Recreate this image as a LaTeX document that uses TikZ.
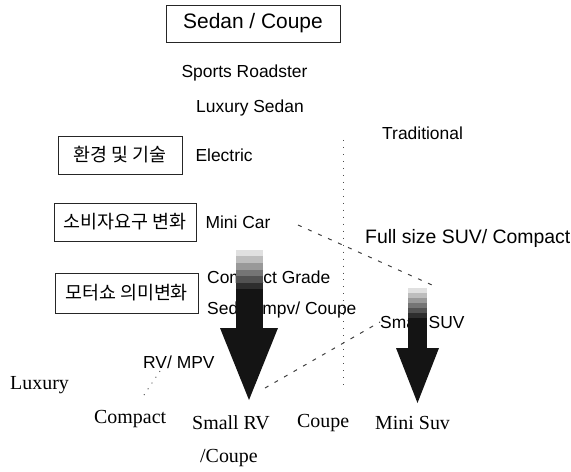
\documentclass[tikz,border=0pt]{standalone}
\usepackage{fontspec}
\setmainfont{Liberation Serif}
\setsansfont{Liberation Sans}
\newfontfamily\krfont{Noto Sans CJK KR}
\usetikzlibrary{positioning}

\begin{document}
\begin{tikzpicture}[
  x=1bp, y=-1bp,
  box/.style={rectangle, draw=black!85, line width=0.6pt, inner sep=0pt},
  cat/.style={box, font=\krfont\fontsize{18.5}{21}\selectfont, minimum height=38bp},
  lbl/.style={font=\sffamily\fontsize{17.5}{20}\selectfont, inner sep=0pt},
  seg/.style={font=\rmfamily\fontsize{20}{23}\selectfont, inner sep=0pt},
  dots/.style={draw=black!70, line width=0.9pt, dash pattern=on 1pt off 6pt},
  dashes/.style={draw=black!75, line width=1pt, dash pattern=on 4pt off 7pt}
]
  \useasboundingbox (0,0) rectangle (571,472);

  \node[box, minimum width=174bp, minimum height=37bp,
        font=\sffamily\fontsize{21}{24}\selectfont] (sedan) at (253,23.5) {Sedan / Coupe};
  \node[lbl] (roadster) at (244.5,73)  {Sports Roadster};
  \node[lbl] (luxsedan) at (250,108)   {Luxury Sedan};
  \node[lbl, anchor=west] (trad) at (382,133) {Traditional};

  \node[cat, minimum width=124bp] (env)  at (120,155) {환경 및 기술};
  \node[cat, minimum width=142bp] (need) at (125,222) {소비자요구 변화};
  \node[cat, minimum width=143bp, minimum height=40bp] (show) at (126.5,293) {모터쇼 의미변화};

  \node[lbl, right=13bp of env]  (electric) {Electric};
  \node[lbl, right=9bp of need]  (minicar)  {Mini Car};
  \node[lbl, anchor=west, font=\sffamily\fontsize{19.5}{22}\selectfont] (fullsize) at (365,238) {Full size SUV/ Compact};
  \node[lbl, anchor=west] (grade)    at (207,279) {Compact Grade};
  \node[lbl, anchor=west] (sedmpv)   at (207,310) {Sedan mpv/ Coupe};
  \node[lbl, anchor=west] (smallsuv) at (380,322) {Small SUV};
  \node[lbl, anchor=west] (rvmpv)    at (143,362) {RV/ MPV};

  \node[seg, anchor=west] (luxury)  at (10,385)  {Luxury};
  \node[seg, anchor=west] (compact) at (94,419)  {Compact};
  \node[seg, anchor=west] (smallrv) at (192,423) {Small RV};
  \node[seg, anchor=west] (slcoupe) at (200,458) {/Coupe};
  \node[seg, anchor=west] (coupe)   at (297,423) {Coupe};
  \node[seg, anchor=west] (minisuv) at (375,423) {Mini Suv};

  \coordinate (vtop)  at (343,140);
  \coordinate (vbot)  at (343,390);
  \coordinate (mcend) at (298,225);
  \coordinate (suvtop) at (432,285);
  \coordinate (rvtip) at (265,388);
  \coordinate (rvfrom) at (160,371);
  \coordinate (rvend) at (142,398);

  \draw[dots]   (vtop) -- (vbot);
  \draw[dashes] (mcend) -- (suvtop);
  \draw[dashes] (rvtip) -- (smallsuv.west);
  \draw[dots]   (rvfrom) -- (rvend);

  \foreach \cx/\sw/\st/\ht/\hw/\tip in {249/13.5/250/328/29/400, 417.5/9.5/288/348/21.5/403} {
    \foreach \i in {0,...,11}
      \fill[black!\fpeval{min(92,12+\i*14)}] (\cx-\sw,{\st+(\ht-\st)*\i/12}) rectangle (\cx+\sw,{\st+(\ht-\st)*(\i+1)/12+0.5});
    \fill[black!92] (\cx-\hw,\ht) -- (\cx+\hw,\ht) -- (\cx,\tip) -- cycle;
  }
\end{tikzpicture}
\end{document}
